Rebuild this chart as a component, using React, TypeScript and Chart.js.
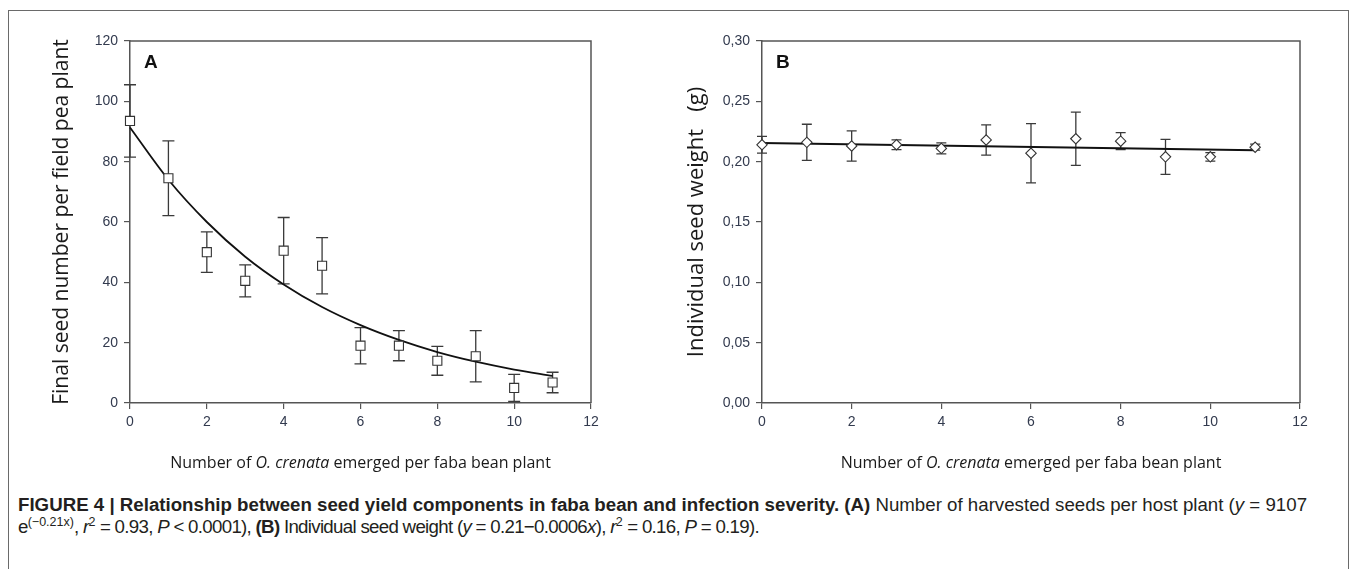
import React, { useEffect, useRef } from "react";
import { Chart, registerables } from "chart.js";

Chart.register(...registerables);

// ---------- data ----------
const infectionLevels = [0, 1, 2, 3, 4, 5, 6, 7, 8, 9, 10, 11];

// Panel A: final seed number per plant
const seedNumberMean = [93.5, 74.5, 50, 40.5, 50.5, 45.5, 19, 19, 14, 15.5, 5, 6.8];
const seedNumberErr = [12, 12.4, 6.7, 5.3, 11, 9.3, 6, 5, 4.8, 8.5, 4.5, 3.4];
const seedNumberFit = [91.3, 74, 60, 48.5, 39.3, 31.8, 25.8, 20.9, 16.9, 13.7, 11.1, 9.0];

// Panel B: individual seed weight (g)
const seedWeightMean = [0.214, 0.216, 0.213, 0.214, 0.211, 0.218, 0.207, 0.219, 0.217, 0.204, 0.204, 0.212];
const seedWeightErr = [0.007, 0.015, 0.0125, 0.004, 0.0045, 0.0125, 0.0245, 0.022, 0.007, 0.0145, 0.0035, 0.0025];
const seedWeightFitX = [0, 11];
const seedWeightFit = [0.2155, 0.2095];

const titleA = "Final seed number per field pea plant";
const titleB = "Individual seed weight   (g)";
const xTitleParts = [
  { text: "Number of ", italic: false },
  { text: "O. crenata", italic: true },
  { text: " emerged per faba bean plant", italic: false },
];

// ---------- styling ----------
const AXIS_COLOR = "#555";
const TICK_COLOR = "#323a4e";
const TICK_FONT = { family: "'Liberation Sans', Arial, sans-serif", size: 14 };
const TITLE_FAMILY = "'Open Sans', 'DejaVu Sans', sans-serif";

type PanelCfg = {
  letter: string;
  yTitle: string;
  yTitleX: number;
  yTitleSize: number;
  errX: number[];
  errY: number[];
  errE: number[];
  cap: number;
};

function makePlugin(cfg: PanelCfg) {
  return {
    id: "panelDeco" + cfg.letter,
    beforeDatasetsDraw(chart: any) {
      const { ctx, scales } = chart;
      ctx.save();
      ctx.strokeStyle = "#3a3a3a";
      ctx.lineWidth = 1.3;
      for (let i = 0; i < cfg.errX.length; i++) {
        const px = scales.x.getPixelForValue(cfg.errX[i]);
        const top = scales.y.getPixelForValue(cfg.errY[i] + cfg.errE[i]);
        const bot = scales.y.getPixelForValue(cfg.errY[i] - cfg.errE[i]);
        ctx.beginPath();
        ctx.moveTo(px, top);
        ctx.lineTo(px, bot);
        ctx.moveTo(px - cfg.cap / 2, top);
        ctx.lineTo(px + cfg.cap / 2, top);
        ctx.moveTo(px - cfg.cap / 2, bot);
        ctx.lineTo(px + cfg.cap / 2, bot);
        ctx.stroke();
      }
      ctx.restore();
    },
    afterDraw(chart: any) {
      const { ctx, chartArea } = chart;
      const { left, right, top, bottom } = chartArea;
      ctx.save();
      // frame
      ctx.strokeStyle = AXIS_COLOR;
      ctx.lineWidth = 1.5;
      ctx.beginPath();
      ctx.moveTo(left, top);
      ctx.lineTo(right, top);
      ctx.lineTo(right, bottom);
      ctx.stroke();
      // panel letter
      ctx.fillStyle = "#111";
      ctx.font = "bold 19px 'Liberation Sans', Arial, sans-serif";
      ctx.textBaseline = "middle";
      ctx.textAlign = "left";
      ctx.fillText(cfg.letter, left + 14, top + 22);
      // y title
      ctx.save();
      ctx.translate(cfg.yTitleX, (top + bottom) / 2);
      ctx.rotate(-Math.PI / 2);
      ctx.font = `${cfg.yTitleSize}px ${TITLE_FAMILY}`;
      ctx.fillStyle = "#1a1a1a";
      ctx.textAlign = "center";
      ctx.textBaseline = "middle";
      ctx.fillText(cfg.yTitle, 0, 0);
      ctx.restore();
      // x title with italic part
      const fonts = xTitleParts.map((p) => `${p.italic ? "italic " : ""}16px ${TITLE_FAMILY}`);
      let total = 0;
      const widths = xTitleParts.map((p, i) => {
        ctx.font = fonts[i];
        const w = ctx.measureText(p.text).width;
        total += w;
        return w;
      });
      let x = (left + right) / 2 - total / 2;
      ctx.fillStyle = "#1a1a1a";
      ctx.textBaseline = "middle";
      ctx.textAlign = "left";
      xTitleParts.forEach((p, i) => {
        ctx.font = fonts[i];
        ctx.fillText(p.text, x, bottom + 60);
        x += widths[i];
      });
      ctx.restore();
    },
  };
}

function axisX() {
  return {
    type: "linear",
    min: 0,
    max: 12,
    ticks: { stepSize: 2, color: TICK_COLOR, font: TICK_FONT, padding: 5, maxRotation: 0 },
    grid: { drawOnChartArea: false, drawTicks: true, tickLength: 6, color: AXIS_COLOR, lineWidth: 1.2 },
    border: { display: true, color: AXIS_COLOR, width: 1.5 },
    afterFit: (s: any) => {
      s.height = 77;
    },
  };
}

function PanelChart(props: { width: number; height: number; left: number; cfg: any }) {
  const ref = useRef<HTMLCanvasElement | null>(null);
  useEffect(() => {
    if (!ref.current) return;
    const chart = new Chart(ref.current, props.cfg);
    return () => chart.destroy();
  }, []);
  return (
    <canvas
      ref={ref}
      width={props.width}
      height={props.height}
      style={{ position: "absolute", left: props.left, top: 0, width: props.width, height: props.height, display: "block" }}
    />
  );
}

export default function App() {
  const cfgA: any = {
    type: "scatter",
    data: {
      datasets: [
        {
          label: "points",
          data: infectionLevels.map((x, i) => ({ x, y: seedNumberMean[i] })),
          pointStyle: "rect",
          pointRadius: 6.4,
          pointBackgroundColor: "#fff",
          pointBorderColor: "#333",
          pointBorderWidth: 1.1,
          showLine: false,
          clip: false,
          order: 1,
        },
        {
          label: "fit",
          data: infectionLevels.map((x, i) => ({ x, y: seedNumberFit[i] })),
          showLine: true,
          pointRadius: 0,
          borderColor: "#111",
          borderWidth: 1.8,
          cubicInterpolationMode: "monotone",
          clip: false,
          order: 2,
        },
      ],
    },
    options: {
      animation: false,
      responsive: false,
      events: [],
      layout: { padding: { left: 0, top: 41, right: 49, bottom: 0 } },
      plugins: { legend: { display: false }, tooltip: { enabled: false } },
      scales: {
        x: axisX(),
        y: {
          type: "linear",
          min: 0,
          max: 120,
          ticks: { stepSize: 20, color: TICK_COLOR, font: TICK_FONT, padding: 6 },
          grid: { drawOnChartArea: false, drawTicks: true, tickLength: 6, color: AXIS_COLOR, lineWidth: 1.2 },
          border: { display: true, color: AXIS_COLOR, width: 1.5 },
          afterFit: (s: any) => {
            s.width = 130;
          },
        },
      },
    },
    plugins: [
      makePlugin({
        letter: "A",
        yTitle: titleA,
        yTitleX: 62,
        yTitleSize: 21,
        errX: infectionLevels,
        errY: seedNumberMean,
        errE: seedNumberErr,
        cap: 12,
      }),
    ],
  };

  const cfgB: any = {
    type: "scatter",
    data: {
      datasets: [
        {
          label: "points",
          data: infectionLevels.map((x, i) => ({ x, y: seedWeightMean[i] })),
          pointStyle: "rectRot",
          pointRadius: 5.2,
          pointBackgroundColor: "#fff",
          pointBorderColor: "#333",
          pointBorderWidth: 1.1,
          showLine: false,
          clip: false,
          order: 1,
        },
        {
          label: "fit",
          data: seedWeightFitX.map((x, i) => ({ x, y: seedWeightFit[i] })),
          showLine: true,
          pointRadius: 0,
          borderColor: "#111",
          borderWidth: 2,
          clip: false,
          order: 2,
        },
      ],
    },
    options: {
      animation: false,
      responsive: false,
      events: [],
      layout: { padding: { left: 0, top: 41, right: 57, bottom: 0 } },
      plugins: { legend: { display: false }, tooltip: { enabled: false } },
      scales: {
        x: axisX(),
        y: {
          type: "linear",
          min: 0,
          max: 0.3,
          ticks: {
            stepSize: 0.05,
            color: TICK_COLOR,
            font: TICK_FONT,
            padding: 6,
            callback: (v: number) => Number(v).toFixed(2).replace(".", ","),
          },
          grid: { drawOnChartArea: false, drawTicks: true, tickLength: 6, color: AXIS_COLOR, lineWidth: 1.2 },
          border: { display: true, color: AXIS_COLOR, width: 1.5 },
          afterFit: (s: any) => {
            s.width = 122;
          },
        },
      },
    },
    plugins: [
      makePlugin({
        letter: "B",
        yTitle: titleB,
        yTitleX: 57,
        yTitleSize: 22,
        errX: infectionLevels,
        errY: seedWeightMean,
        errE: seedWeightErr,
        cap: 10,
      }),
    ],
  };

  const supStyle: React.CSSProperties = { fontSize: 12.5, lineHeight: 0, verticalAlign: "7px", letterSpacing: 0 };

  return (
    <div style={{ position: "absolute", left: 0, top: 0, width: 1357, height: 569, overflow: "hidden", background: "#fff" }}>
      <div
        style={{
          position: "absolute",
          left: 8,
          top: 10,
          width: 1341,
          height: 600,
          border: "1px solid #6a6a6a",
          boxSizing: "border-box",
        }}
      />
      <PanelChart width={640} height={480} left={0} cfg={cfgA} />
      <PanelChart width={717} height={480} left={640} cfg={cfgB} />
      <div
        style={{
          position: "absolute",
          left: 18,
          top: 494,
          whiteSpace: "nowrap",
          fontFamily: "'Liberation Sans', Arial, Helvetica, sans-serif",
          fontSize: 18.7,
          lineHeight: "22px",
          color: "#231f20",
        }}
      >
        <div>
          <b>FIGURE 4 | Relationship between seed yield components in faba bean and infection severity. (A)</b> Number
          of harvested seeds per host plant (<i>y</i> = 9107
        </div>
        <div style={{ letterSpacing: "-0.7px" }}>
          e<sup style={supStyle}>(−0.21x)</sup>, <i>r</i>
          <sup style={supStyle}>2</sup> = 0.93, <i>P</i> &lt; 0.0001), <b>(B)</b> Individual seed weight (<i>y</i> =
          0.21−0.0006<i>x</i>), <i>r</i>
          <sup style={supStyle}>2</sup> = 0.16, <i>P</i> = 0.19).
        </div>
      </div>
    </div>
  );
}
